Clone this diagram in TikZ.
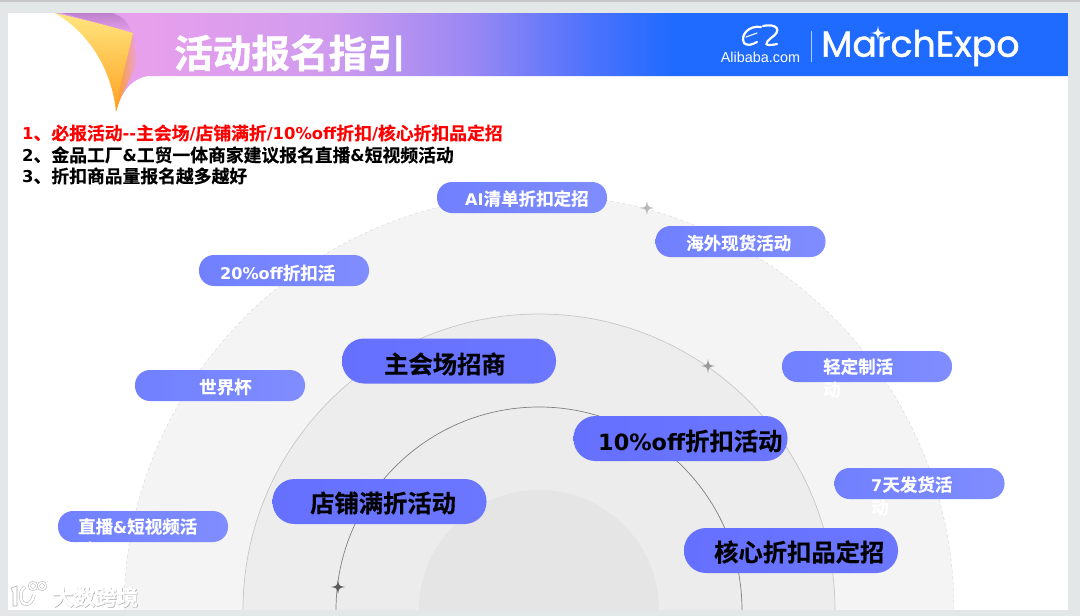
\documentclass[tikz,border=0pt]{standalone}
\usepackage{fontspec}
\setmainfont{Noto Sans CJK SC}
\newfontfamily\zh{Noto Sans CJK SC Bold}[FakeBold=0.35]
\newfontfamily\zhtitle{Noto Sans CJK SC Bold}[FakeBold=1]
\newfontfamily\pop{Poppins}[FakeBold=1.3]
\newfontfamily\lib{Liberation Sans}
\newfontfamily\latb{DejaVu Sans Bold}[Scale=0.92]
\newcommand{\latpart}[1]{{\latb #1}}
\usetikzlibrary{shadings}
\definecolor{pagebg}{HTML}{E4E7E8}
\definecolor{smallL}{HTML}{7080FF}
\definecolor{smallR}{HTML}{808DFF}
\definecolor{bigL}{HTML}{6570FF}
\definecolor{bigR}{HTML}{6B77FF}
\definecolor{peelred}{HTML}{FF0000}
\definecolor{b0}{HTML}{D9A2E6}
\definecolor{b1}{HTML}{E8A0EC}
\definecolor{b2}{HTML}{D09BEE}
\definecolor{b3}{HTML}{9A88F3}
\definecolor{b4}{HTML}{4C72FC}
\definecolor{b5}{HTML}{1F6BFF}
\definecolor{py}{HTML}{FFE680}
\definecolor{pm}{HTML}{FFD050}
\definecolor{po}{HTML}{FFA01E}
\definecolor{pu}{HTML}{BE80CC}
\pgfdeclarehorizontalshading{bandshade}{100bp}{
 color(0bp)=(b0); color(25bp)=(b0); color(29bp)=(b1); color(38.5bp)=(b2);
 color(45.5bp)=(b3); color(51.5bp)=(b4); color(55.5bp)=(b5); color(100bp)=(b5)}
\tikzset{
 x=1pt,y=-1pt,
 pill/.style={rectangle,rounded corners=15pt,minimum width=170pt,minimum height=31pt,inner sep=0pt,left color=smallL,right color=smallR,draw=none},
 bigpill/.style={rectangle,rounded corners=22pt,minimum width=214pt,minimum height=45pt,inner sep=0pt,left color=bigL,right color=bigR,draw=none},
 smalltext/.style={anchor=west,inner sep=0pt,text=white,font=\zh\fontsize{17.5}{23}\selectfont,align=left},
 bigtext/.style={anchor=west,inner sep=0pt,text=black,font=\zh\fontsize{24.3}{28}\selectfont},
 linetext/.style={anchor=west,inner sep=0pt,font=\zh\fontsize{17.8}{20}\selectfont},
 sparkle/.style={fill=#1,draw=none}
}
\newcommand{\sparkleat}[3]{\fill[sparkle=#3] (#1,#2-7) .. controls (#1+1,#2-1) .. (#1+7,#2) .. controls (#1+1,#2+1) .. (#1,#2+7) .. controls (#1-1,#2+1) .. (#1-7,#2) .. controls (#1-1,#2-1) .. (#1,#2-7) -- cycle;}
\begin{document}
\begin{tikzpicture}
\useasboundingbox (0,0) rectangle (1080,616);
\fill[pagebg] (0,0) rectangle (1080,616);
\fill[black!22] (0,0) rectangle (1080,1.5);
\fill[white] (8,13) rectangle (1068,609.5);
% concentric arcs
\begin{scope}
\clip (8,13) rectangle (1068,609.5);
\draw[draw=black!16,dashed,fill=black!4.5] (539,610) circle (415);
\draw[draw=black!22,line width=.7pt,fill=black!7] (539,610) circle (296);
\draw[draw=black!50,line width=.7pt,fill=black!7.5] (539,610) circle (203);
\fill[black!10] (539,610) circle (120);
\end{scope}
% header band
\shade[shading=bandshade] (55,13) -- (1068,13) -- (1068,76) -- (150,76)
  .. controls (130,78) and (120,95) .. (116,112) -- (116,70)
  .. controls (100,40) and (80,25) .. (55,13) -- cycle;
% fold shadows
\shade[left color=po,right color=b1] (120,36) -- (133,33) -- (138,62) .. controls (130,80) and (122,92) .. (116,112) -- cycle;
\shade[top color=pu,bottom color=b1] (62,13) -- (112,13) .. controls (124,18) .. (133,33) -- cycle;
% peel
\shade[top color=py,middle color=pm,bottom color=po]
  (55,13) .. controls (85,20) and (110,26) .. (133,33) .. controls (127,60) and (119,85) .. (116,112)
  .. controls (113,80) and (97,38) .. (55,13) -- cycle;
% white corners around the band
\fill[white] (116,114) .. controls (120,95) and (130,78) .. (150,76) -- (150,114) -- cycle;
% logos
\draw[white,line width=2.2pt,line cap=round] (761,27) .. controls (749,25) and (740,35) .. (744,43) .. controls (747,46) and (752,45) .. (757,42);
\draw[white,line width=1.1pt,line cap=round] (746,37) -- (757,33);
\draw[white,line width=2.2pt,line cap=round] (763,26) .. controls (778,23) and (782,31) .. (771,38) .. controls (765,43) and (763,47) .. (777,44);
\node[anchor=center,inner sep=0pt,text=white,font=\lib\fontsize{14.4}{15}\selectfont] (alibaba) at (760.5,57) {Alibaba.com};
\draw[white!65!b5,line width=.8pt] (811,31) -- (811,62);
\node[anchor=west,inner sep=0pt,text=white,font=\pop\fontsize{36.3}{38}\selectfont] (march) at (821,48) {MarchExpo};
\sparkleat{878}{33}{white}
% title
\node[anchor=west,inner sep=0pt,text=white,font=\zhtitle\fontsize{38.6}{40}\selectfont] (title) at (174,53) {活动报名指引};
% lead lines
\node[linetext,text=peelred] (l1) at (22,133) {\latpart{1}、必报活动\latpart{--}主会场\latpart{/}店铺满折\latpart{/}\latpart{10\%off}折扣\latpart{/}核心折扣品定招};
\node[linetext] (l2) at (22,155) {\latpart{2}、金品工厂\latpart{\&}工贸一体商家建议报名直播\latpart{\&}短视频活动};
\node[linetext] (l3) at (22,176) {\latpart{3}、折扣商品量报名越多越好};
% sparkles
\sparkleat{647}{208}{black!28}
\sparkleat{708}{366}{black!40}
\sparkleat{338}{587}{black!65}
% small pills
\node[pill] (p1) at (522,197.5) {};
\node[pill] (p2) at (740.5,241.5) {};
\node[pill] (p3) at (284,270.5) {};
\node[pill] (p4) at (867,366.5) {};
\node[pill] (p5) at (220,385.5) {};
\node[pill] (p6) at (919.5,483.5) {};
\node[pill] (p7) at (143,526.5) {};
\node[smalltext] (t1) at (465,198.5) {\latpart{AI}清单折扣定招};
\node[smalltext] (t2) at (686,243) {海外现货活动};
\node[smalltext] (t3) at (220,273) {\latpart{20\%off}折扣活};
\node[smalltext,anchor=north west] (t4) at (823,358) {轻定制活\\动};
\node[smalltext] (t5) at (199,387) {世界杯};
\node[smalltext,anchor=north west] (t6) at (871,476) {\latpart{7}天发货活\\动};
\node[smalltext,anchor=north west] (t7) at (78,518) {直播\latpart{\&}短视频活\\动};
% big pills
\node[bigpill] (g1) at (449,361) {};
\node[bigpill] (g2) at (680.5,438.5) {};
\node[bigpill] (g3) at (379.5,501.5) {};
\node[bigpill] (g4) at (791,550.5) {};
\node[bigtext] (h1) at (384,364) {主会场招商};
\node[bigtext] (h2) at (598,441) {\latpart{10\%off}折扣活动};
\node[bigtext] (h3) at (310,503) {店铺满折活动};
\node[bigtext] (h4) at (714,552) {核心折扣品定招};
% watermark
\begin{scope}[line width=.6pt,draw=black!30,fill=white]
\draw[fill=white] (11,588) -- (17,586) -- (17,606) -- (13,606) -- (13,593) -- cycle;
\draw[double=white,double distance=2.4pt,line width=.5pt] (34,595) .. controls (31,607) and (22,607) .. (21,598) .. controls (20,592) and (22,589) .. (25,587);
\draw[double=white,double distance=1.6pt,line width=.5pt] (33,586) circle (3.6);
\draw[double=white,double distance=1.6pt,line width=.5pt] (42,586) circle (3.6);
\end{scope}
\node[anchor=west,inner sep=0pt,text=black!32,font=\zh\fontsize{21.5}{24}\selectfont] (w0) at (52.6,597.6) {大数跨境};
\node[anchor=west,inner sep=0pt,text=white,font=\zh\fontsize{21.5}{24}\selectfont] (w1) at (52,597) {大数跨境};
\end{tikzpicture}
\end{document}
